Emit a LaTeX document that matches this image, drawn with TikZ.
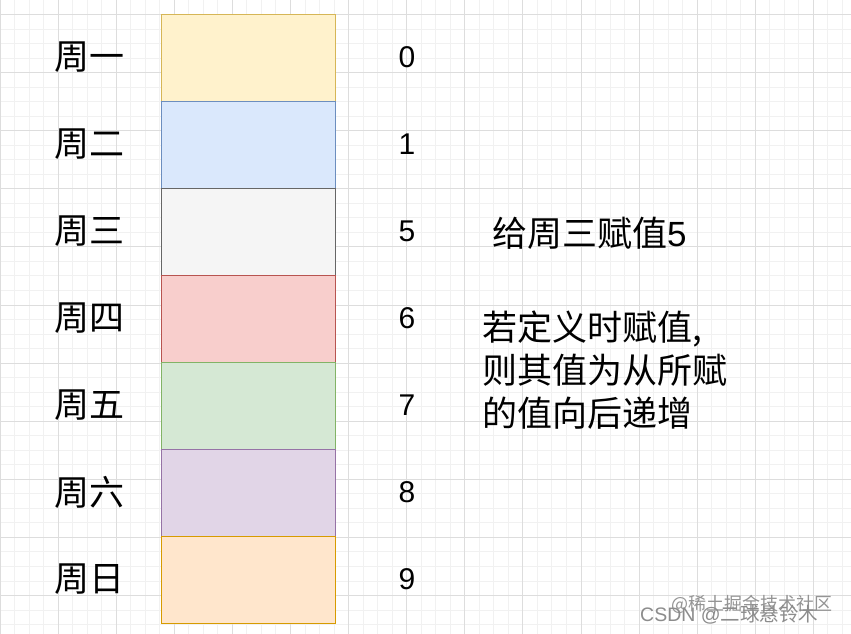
\documentclass[tikz,border=0pt]{standalone}
\usepackage{fontspec}
\setmainfont{Noto Sans CJK SC}
\newfontfamily\latin{Liberation Sans}
\definecolor{minorc}{HTML}{F1F1F1}
\definecolor{majorc}{HTML}{DDDDDD}
\definecolor{f1}{HTML}{FFF2CC}\definecolor{s1}{HTML}{D6B656}
\definecolor{f2}{HTML}{DAE8FC}\definecolor{s2}{HTML}{6C8EBF}
\definecolor{f3}{HTML}{F5F5F5}\definecolor{s3}{HTML}{666666}
\definecolor{f4}{HTML}{F8CECC}\definecolor{s4}{HTML}{B85450}
\definecolor{f5}{HTML}{D5E8D4}\definecolor{s5}{HTML}{82B366}
\definecolor{f6}{HTML}{E1D5E7}\definecolor{s6}{HTML}{9673A6}
\definecolor{f7}{HTML}{FFE6CC}\definecolor{s7}{HTML}{D79B00}
\tikzset{
  minorline/.style={draw=minorc,line width=1bp},
  majorline/.style={draw=majorc,line width=1bp},
  cell/.style={rectangle,minimum width=174bp,minimum height=87bp,line width=1.1bp,inner sep=0pt,anchor=north west},
  daylabel/.style={font=\fontsize{35bp}{40bp}\selectfont,inner sep=0pt},
  numlabel/.style={font=\latin\fontsize{30bp}{36bp}\selectfont,inner sep=0pt},
  note/.style={font=\fontsize{35bp}{43bp}\selectfont,inner sep=0pt,anchor=west,align=left},
  wma/.style={font=\fontsize{18bp}{20bp}\selectfont,text=black!42,inner sep=0pt,anchor=west},
  wmb/.style={font=\fontsize{19.5bp}{22bp}\selectfont,text=black!45,inner sep=0pt,anchor=west}
}
\begin{document}
\begin{tikzpicture}[x=1bp,y=-1bp]
\useasboundingbox[fill=white] (0,0) rectangle (851,634);
% grid
\foreach \i in {0,...,59}{
  \pgfmathsetmacro\xx{\i*14.525}
  \draw[minorline] (\xx,0) -- (\xx,634);
}
\foreach \i in {0,...,44}{
  \pgfmathsetmacro\yy{\i*14.525}
  \draw[minorline] (0,\yy) -- (851,\yy);
}
\foreach \i in {0,...,14}{
  \pgfmathsetmacro\xx{\i*58.1}
  \draw[majorline] (\xx,0) -- (\xx,634);
}
\foreach \i in {0,...,10}{
  \pgfmathsetmacro\yy{14.525+\i*58.1}
  \draw[majorline] (0,\yy) -- (851,\yy);
}
% cells
\node[cell,fill=f1,draw=s1] (c1) at (161,14) {};
\node[cell,fill=f2,draw=s2] (c2) at (161,101) {};
\node[cell,fill=f3,draw=s3] (c3) at (161,188) {};
\node[cell,fill=f4,draw=s4] (c4) at (161,275) {};
\node[cell,fill=f5,draw=s5] (c5) at (161,362) {};
\node[cell,fill=f6,draw=s6] (c6) at (161,449) {};
\node[cell,fill=f7,draw=s7] (c7) at (161,536) {};
% day labels
\node[daylabel] (d1) at (89,57.5) {周一};
\node[daylabel] (d2) at (89,144.5) {周二};
\node[daylabel] (d3) at (89,231.5) {周三};
\node[daylabel] (d4) at (89,318.5) {周四};
\node[daylabel] (d5) at (89,405.5) {周五};
\node[daylabel] (d6) at (89,492.5) {周六};
\node[daylabel] (d7) at (89,579.5) {周日};
% numbers
\node[numlabel] (n1) at (407,57.5) {0};
\node[numlabel] (n2) at (407,144.5) {1};
\node[numlabel] (n3) at (407,231.5) {5};
\node[numlabel] (n4) at (407,318.5) {6};
\node[numlabel] (n5) at (407,405.5) {7};
\node[numlabel] (n6) at (407,492.5) {8};
\node[numlabel] (n7) at (407,579.5) {9};
% notes
\node[note] (t1) at (492,233) {给周三赋值{\latin 5}};
\node[note] (t2) at (482,370) {若定义时赋值,\\则其值为从所赋\\的值向后递增};
% watermarks
\node[wma] (w1) at (671,604) {@稀土掘金技术社区};
\node[wmb] (w2) at (640,615) {{\latin CSDN @}二球悬铃木};
\end{tikzpicture}
\end{document}
